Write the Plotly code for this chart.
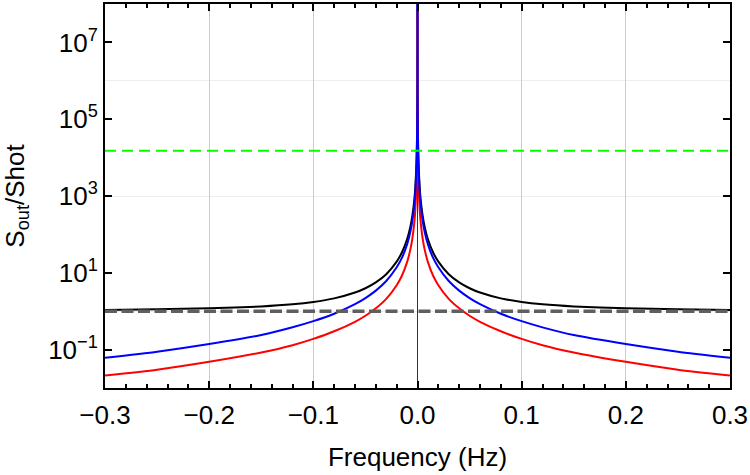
import plotly.graph_objects as go

# Frequencies (Hz), positive half; negative half is the mirror
freq_pos = [0.000005, 0.00002, 0.0001, 0.0002, 0.0005, 0.001, 0.002, 0.003, 0.005, 0.007,
            0.01, 0.015, 0.02, 0.03, 0.04, 0.05, 0.06, 0.08, 0.1, 0.12, 0.15, 0.2, 0.25, 0.3]
black_pos = [3e8, 1.85e7, 7.4e5, 1.87e5, 29600, 7401, 1851, 823, 297, 152,
             75, 33.8, 19.5, 9.2, 5.63, 3.96, 3.06, 2.16, 1.74, 1.51, 1.33, 1.19, 1.12, 1.08]
blue_pos = [2.2e8, 1.4e7, 5.5e5, 1.4e5, 22000, 5500, 1375, 611, 220, 112,
            55, 24.4, 14, 6.1, 3.44, 2.2, 1.53, 0.86, 0.55, 0.38, 0.24, 0.14, 0.088, 0.061]
red_pos = [7.6e7, 4.75e6, 1.9e5, 47500, 7600, 1900, 475, 211, 76, 39,
           19, 8.4, 4.75, 2.1, 1.19, 0.76, 0.53, 0.30, 0.19, 0.13, 0.084, 0.048, 0.030, 0.021]

green_level = 1.5e4
shot_level = 1.0
x_range = [-0.3, 0.3]

x_ticks = [-0.3, -0.2, -0.1, 0.0, 0.1, 0.2, 0.3]
x_ticktext = ["\u22120.3", "\u22120.2", "\u22120.1", "0.0", "0.1", "0.2", "0.3"]
y_ticks = [1e-1, 1e1, 1e3, 1e5, 1e7]
y_ticktext = ["10<sup>\u22121</sup>", "10<sup>1</sup>", "10<sup>3</sup>", "10<sup>5</sup>", "10<sup>7</sup>"]


def full(xs, ys):
    fx = [-v for v in reversed(xs)] + list(xs)
    fy = list(reversed(ys)) + list(ys)
    return fx, fy


fig = go.Figure()
for ys, col in [(black_pos, "black"), (red_pos, "#ff0000"), (blue_pos, "#0000ff")]:
    fx, fy = full(freq_pos, ys)
    fig.add_trace(go.Scatter(x=fx, y=fy, mode="lines",
                             line=dict(color=col, width=2, shape="spline", smoothing=0.6),
                             showlegend=False, hoverinfo="skip"))

fig.add_trace(go.Scatter(x=x_range, y=[green_level, green_level], mode="lines",
                         line=dict(color="#00ff00", width=2, dash="11px,6px"),
                         showlegend=False))
fig.add_trace(go.Scatter(x=x_range, y=[shot_level, shot_level], mode="lines",
                         line=dict(color="#5f5f5f", width=3.5, dash="12px,4.5px"),
                         showlegend=False))

font_family = "Liberation Sans, Arial, sans-serif"
fig.update_layout(
    width=750, height=475,
    margin=dict(l=105, r=19, t=2, b=87),
    plot_bgcolor="white", paper_bgcolor="white",
    font=dict(family=font_family, color="black", size=26),
    xaxis=dict(
        range=x_range, tickmode="array", tickvals=x_ticks, ticktext=x_ticktext,
        showline=True, linecolor="black", linewidth=2, mirror="allticks",
        ticks="inside", ticklen=7, tickwidth=1.5, tickcolor="black",
        showgrid=True, gridcolor="#cccccc", gridwidth=1,
        zeroline=True, zerolinecolor="#333333", zerolinewidth=1,
        minor=dict(dtick=0.02, tick0=0, ticks="inside", ticklen=4, tickwidth=1.5,
                   tickcolor="black", showgrid=False),
        tickfont=dict(size=26), ticklabelstandoff=3,
        title=dict(text="Frequency (Hz)", font=dict(size=26), standoff=19),
    ),
    yaxis=dict(
        type="log", range=[-2, 8], tickmode="array", tickvals=y_ticks, ticktext=y_ticktext,
        showline=True, linecolor="black", linewidth=2, mirror="allticks",
        ticks="inside", ticklen=7, tickwidth=1.5, tickcolor="black",
        showgrid=False, zeroline=False,
        minor=dict(tickmode="array", tickvals=[1, 1e3, 1e6], ticks="", ticklen=0,
                   showgrid=True, gridcolor="#eeeeee", gridwidth=1),
        tickfont=dict(size=26),
        title=dict(text="S<sub>out</sub>/Shot", font=dict(size=26), standoff=16),
    ),
)

fig.write_html("out.html")
